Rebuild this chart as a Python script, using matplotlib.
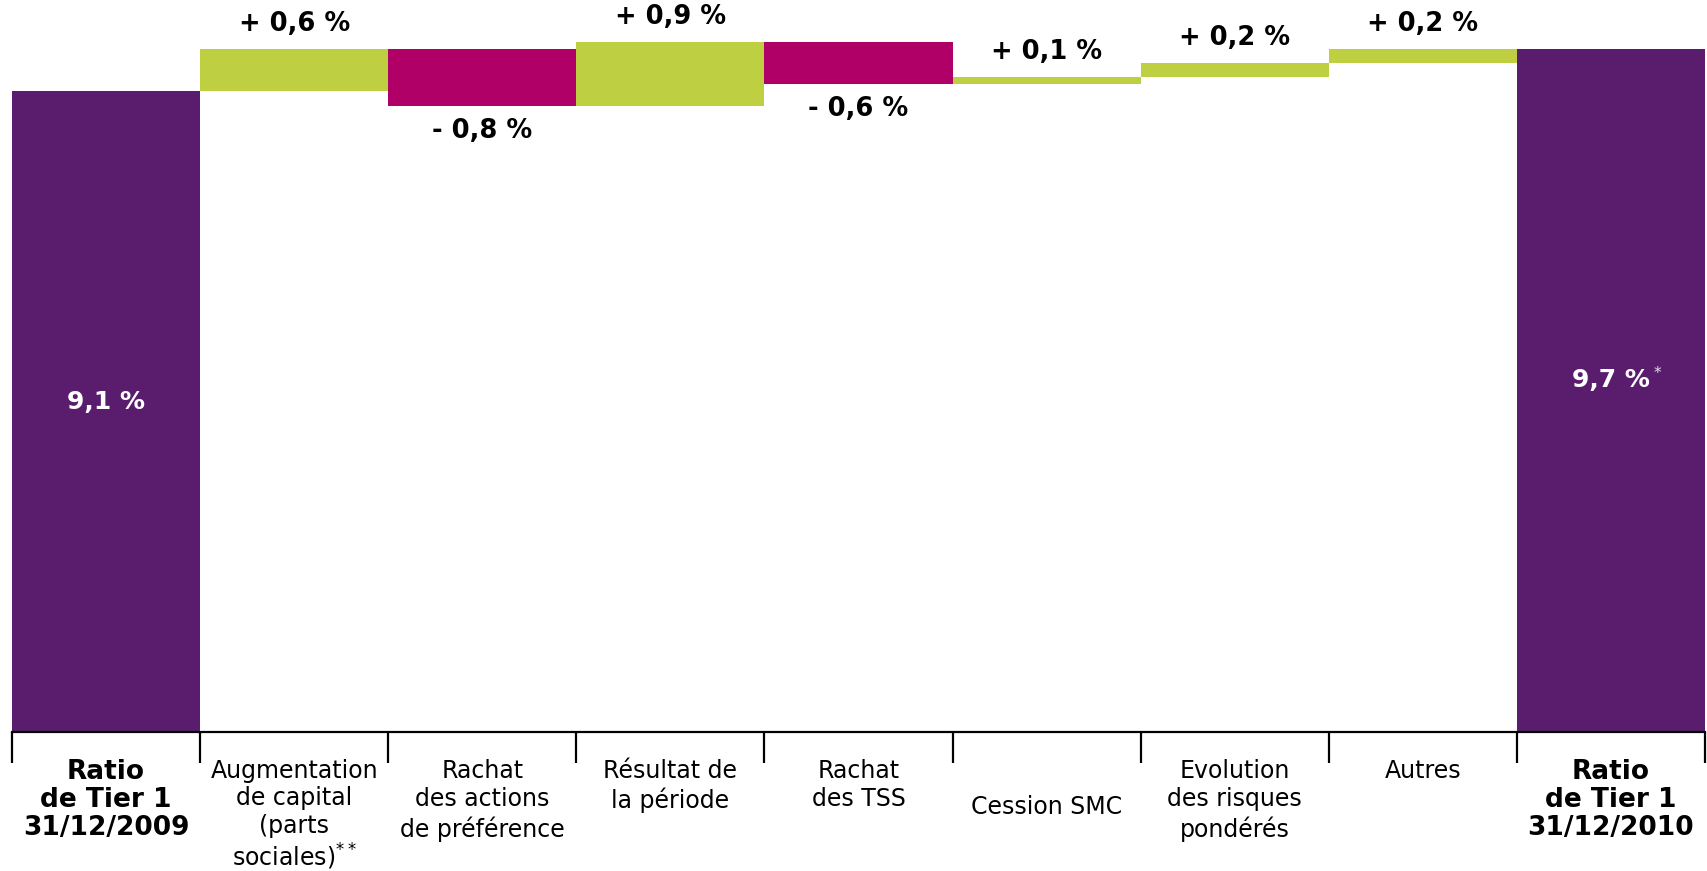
import matplotlib.pyplot as plt
import numpy as np

categories = [
    "Ratio\nde Tier 1\n31/12/2009",
    "Augmentation\nde capital\n(parts\nsociales)$^{**}$",
    "Rachat\ndes actions\nde préférence",
    "Résultat de\nla période",
    "Rachat\ndes TSS",
    "\nCession SMC",
    "Evolution\ndes risques\npondérés",
    "Autres",
    "Ratio\nde Tier 1\n31/12/2010",
]
start_ratio = 9.1
end_ratio = 9.7
deltas = [0.6, -0.8, 0.9, -0.6, 0.1, 0.2, 0.2]

PURPLE = '#5a1d6e'
GREEN = '#bfcf42'
MAGENTA = '#b00068'

def fmt(v):
    return f"{v:.1f}".replace('.', ',')

fig = plt.figure(figsize=(17.08, 8.71), dpi=100)
ax = fig.add_axes([12 / 1708, 0.1596, 1693 / 1708, 1 - 0.1596])

n = len(categories)
x = np.arange(n)

# totals at both ends
ax.bar([0, n - 1], [start_ratio, end_ratio], width=1.0, color=PURPLE)

# floating steps
level = start_ratio
for i, d in enumerate(deltas, start=1):
    bottom = min(level, level + d)
    ax.bar(i, abs(d), bottom=bottom, width=1.0,
           color=GREEN if d > 0 else MAGENTA)
    if d > 0:
        ax.annotate(f"+ {fmt(d)} %", xy=(i, level + d), xytext=(0, 18),
                    textcoords='offset points', ha='center', va='center',
                    fontsize=18.5, fontweight='bold')
    else:
        ax.annotate(f"- {fmt(-d)} %", xy=(i, level + d), xytext=(0, -18),
                    textcoords='offset points', ha='center', va='center',
                    fontsize=18.5, fontweight='bold')
    level += d

ax.text(0, start_ratio * 0.515, f"{fmt(start_ratio)} %", color='white',
        ha='center', va='center', fontsize=18, fontweight='bold')
ax.text(n - 1, end_ratio * 0.515, f"{fmt(end_ratio)} %", color='white',
        ha='center', va='center', fontsize=18, fontweight='bold')
ax.annotate("*", xy=(n - 1, end_ratio * 0.515), xytext=(31, 5),
            textcoords='offset points', color='#e8e0ee', fontsize=11,
            ha='left', va='center')

ax.set_xlim(-0.5, n - 0.5)
ax.set_ylim(0, 10.4)

# separators between columns, labels centred in each column
ax.set_xticks(np.arange(n + 1) - 0.5)
ax.set_xticklabels([])
ax.tick_params(axis='x', which='major', length=22, width=1.6, color='black')
ax.set_xticks(x, minor=True)
ax.set_xticklabels(categories, minor=True, fontsize=17)
ax.tick_params(axis='x', which='minor', length=0, pad=19.5)
minor_labels = ax.get_xticklabels(minor=True)
for lab in minor_labels:
    lab.set_verticalalignment('top')
    lab.set_linespacing(1.23)
for lab in (minor_labels[0], minor_labels[-1]):
    lab.set_fontweight('bold')
    lab.set_fontsize(19)
    lab.set_linespacing(1.1)
minor_labels[1].set_linespacing(1.17)
minor_labels[5].set_linespacing(1.65)

ax.set_yticks([])
for side in ['top', 'right', 'left']:
    ax.spines[side].set_visible(False)
ax.spines['bottom'].set_linewidth(1.6)

plt.savefig('out.png', dpi=100)
plt.close()
